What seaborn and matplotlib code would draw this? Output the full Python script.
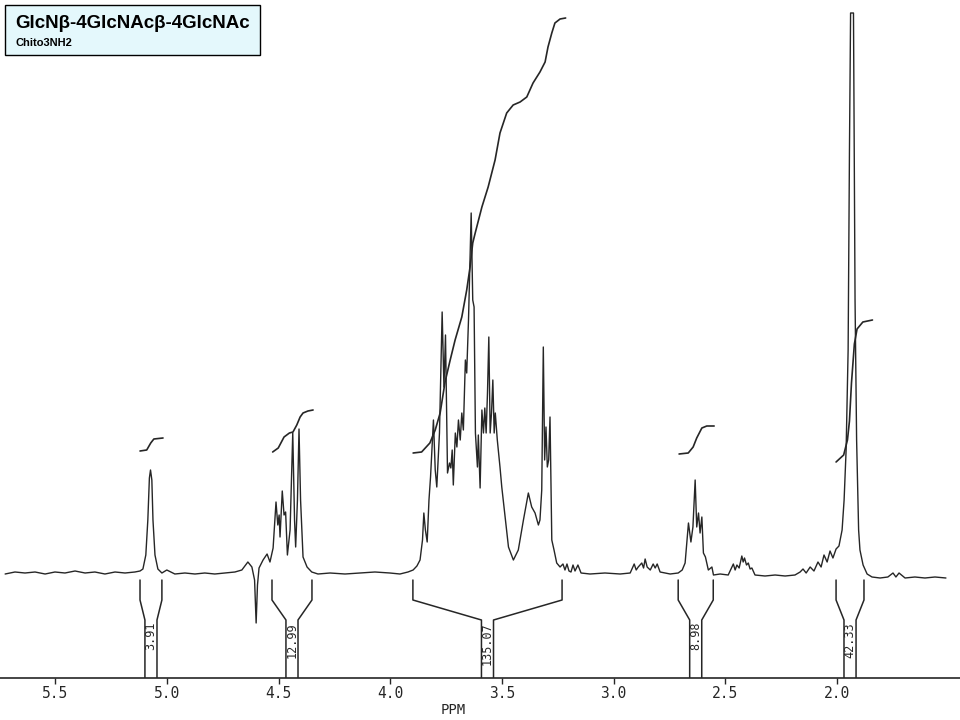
"""
1H NMR de GlcNb-4GlcNAcb-4GlcNAc (Chito3NH2) - trazo del espectro escaneado
"""
import matplotlib
matplotlib.use("Agg")
import matplotlib.pyplot as plt
import seaborn as sns
from matplotlib.patches import Rectangle

sns.set_theme(style="white")
plt.rcParams.update({"figure.dpi": 100, "savefig.dpi": 100})

TINTA = "#262626"
MONO = "DejaVu Sans Mono"

# ----------------------------------------------------------------------
# Datos leidos del espectro (ppm, intensidad relativa sobre la linea base)
# ----------------------------------------------------------------------
spec_ppm = [
    5.725, 5.681, 5.636, 5.591, 5.546, 5.502, 5.457, 5.412, 5.367, 5.323,
    5.278, 5.233, 5.188, 5.144, 5.121, 5.108, 5.095, 5.086, 5.079, 5.074,
    5.068, 5.063, 5.054, 5.041, 5.023, 5.001, 4.965, 4.920, 4.875, 4.831,
    4.786, 4.741, 4.696, 4.665, 4.638, 4.620, 4.608, 4.601, 4.595, 4.588,
    4.570, 4.552, 4.539, 4.525, 4.512, 4.504, 4.498, 4.494, 4.484, 4.476,
    4.469, 4.461, 4.449, 4.437, 4.429, 4.424, 4.416, 4.409, 4.402, 4.391,
    4.373, 4.352, 4.324, 4.270, 4.203, 4.136, 4.069, 4.002, 3.957, 3.921,
    3.898, 3.881, 3.867, 3.856, 3.850, 3.843, 3.835, 3.827, 3.820, 3.807,
    3.799, 3.792, 3.780, 3.768, 3.760, 3.753, 3.744, 3.735, 3.729, 3.723,
    3.718, 3.709, 3.702, 3.695, 3.687, 3.680, 3.673, 3.664, 3.658, 3.650,
    3.638, 3.631, 3.625, 3.619, 3.610, 3.606, 3.598, 3.590, 3.583, 3.577,
    3.571, 3.565, 3.559, 3.553, 3.547, 3.541, 3.535, 3.530, 3.521, 3.509,
    3.501, 3.486, 3.471, 3.449, 3.427, 3.404, 3.382, 3.367, 3.352, 3.337,
    3.330, 3.322, 3.315, 3.309, 3.303, 3.297, 3.291, 3.285, 3.277, 3.267,
    3.255, 3.240, 3.227, 3.218, 3.209, 3.200, 3.191, 3.182, 3.173, 3.160,
    3.146, 3.106, 3.039, 2.971, 2.926, 2.908, 2.899, 2.890, 2.874, 2.866,
    2.859, 2.850, 2.836, 2.823, 2.814, 2.805, 2.792, 2.747, 2.711, 2.693,
    2.680, 2.665, 2.654, 2.645, 2.635, 2.628, 2.620, 2.613, 2.605, 2.598,
    2.589, 2.576, 2.560, 2.553, 2.523, 2.487, 2.464, 2.456, 2.448, 2.438,
    2.426, 2.420, 2.414, 2.405, 2.397, 2.389, 2.381, 2.367, 2.322, 2.277,
    2.232, 2.188, 2.165, 2.152, 2.138, 2.120, 2.103, 2.085, 2.071, 2.058,
    2.044, 2.031, 2.018, 2.004, 1.991, 1.977, 1.968, 1.959, 1.950, 1.944,
    1.939, 1.926, 1.919, 1.912, 1.903, 1.897, 1.883, 1.865, 1.843, 1.807,
    1.772, 1.749, 1.736, 1.722, 1.695, 1.651, 1.606, 1.561, 1.512,
]
spec_int = [
    -1, 1, 0, 1, -1, 1, 0, 2, 0, 1,
    -1, 1, 0, 1, 2, 4, 18, 53, 95, 103,
    93, 53, 18, 4, 0, 3, -1, 0, -1, 0,
    -1, 0, 1, 3, 11, 6, -7, -50, -12, 5,
    13, 19, 11, 25, 71, 48, 58, 36, 82, 58,
    61, 18, 43, 140, 53, 26, 73, 144, 73, 16,
    6, 1, -1, 0, -1, 0, 1, 0, -1, 1,
    3, 7, 13, 33, 60, 43, 31, 73, 96, 153,
    103, 86, 140, 261, 186, 238, 100, 110, 105, 123,
    88, 140, 126, 153, 133, 160, 143, 213, 200, 253,
    360, 273, 266, 140, 106, 138, 85, 163, 140, 165,
    140, 180, 236, 140, 160, 193, 140, 160, 133, 106,
    86, 56, 26, 13, 23, 53, 80, 66, 60, 48,
    53, 83, 226, 113, 146, 106, 113, 156, 33, 23,
    10, 6, 9, 3, 9, 2, 1, 8, 2, 8,
    0, -1, 0, -1, 0, 9, 3, 6, 10, 5,
    14, 6, 3, 9, 5, 9, 1, -1, 0, 3,
    10, 50, 31, 46, 93, 46, 60, 40, 56, 20,
    16, 3, 6, -2, -1, -2, 9, 3, 8, 5,
    17, 11, 15, 8, 10, 4, 5, -2, -3, -2,
    -3, -2, 1, 4, 0, 6, 2, 11, 6, 18,
    11, 22, 15, 24, 27, 43, 73, 123, 223, 423,
    560, 560, 273, 133, 43, 23, 8, -1, -4, -5,
    -4, 0, -4, 0, -5, -4, -5, -4, -5,
]

# Curvas de integral
int1_ppm = [5.121, 5.091, 5.073, 5.059, 5.018]
int1_y = [122, 123, 130, 134, 135]
int2_ppm = [4.527, 4.502, 4.476, 4.452, 4.436, 4.419, 4.404, 4.391, 4.369, 4.346]
int2_y = [121, 125, 136, 140, 141, 148, 156, 160, 162, 163]
int3_ppm = [3.898, 3.860, 3.823, 3.799, 3.777, 3.755, 3.732, 3.710, 3.680, 3.658,
            3.643, 3.631, 3.620, 3.590, 3.562, 3.531, 3.509, 3.479, 3.450, 3.419,
            3.389, 3.361, 3.330, 3.307, 3.294, 3.277, 3.263, 3.240, 3.215]
int3_y = [120, 121, 130, 143, 160, 191, 213, 233, 256, 283,
          306, 330, 340, 366, 386, 413, 440, 460, 468, 471,
          476, 490, 501, 511, 526, 540, 550, 554, 555]
int4_ppm = [2.707, 2.666, 2.644, 2.628, 2.605, 2.583, 2.550]
int4_y = [119, 120, 126, 135, 145, 147, 147]
int5_ppm = [2.004, 1.970, 1.953, 1.944, 1.935, 1.922, 1.910, 1.884, 1.841]
int5_y = [111, 118, 133, 152, 190, 229, 244, 251, 253]

# Regiones integradas y sus valores
region_left = [5.121, 4.530, 3.899, 2.711, 2.004]
region_right = [5.023, 4.351, 3.231, 2.554, 1.879]
integral_labels = ["3.91", "12.99", "135.07", "8.98", "42.33"]

ticks = [5.5, 5.0, 4.5, 4.0, 3.5, 3.0, 2.5, 2.0]
tick_labels = ["5.5", "5.0", "4.5", "4.0", "3.5", "3.0", "2.5", "2.0"]

# ----------------------------------------------------------------------
fig = plt.figure(figsize=(9.6, 7.2))
fig.patch.set_facecolor("white")
ax = fig.add_axes([0, 42 / 720, 1, 678 / 720])
ax.set_facecolor("white")

sns.lineplot(x=spec_ppm, y=spec_int, sort=False, estimator=None,
             color=TINTA, lw=1.0, ax=ax)
for px, py in [(int1_ppm, int1_y), (int2_ppm, int2_y), (int3_ppm, int3_y),
               (int4_ppm, int4_y), (int5_ppm, int5_y)]:
    sns.lineplot(x=px, y=py, sort=False, estimator=None, color=TINTA, lw=1.2, ax=ax)

# Corchetes de integracion bajo el espectro
y_top, y_b1, y_b2, y_bot = -7, -27, -47, -105
gap = 0.027
for l, r, lab in zip(region_left, region_right, integral_labels):
    c = (l + r) / 2
    ax.plot([l, l, c + gap, c + gap], [y_top, y_b1, y_b2, y_bot], color=TINTA, lw=1.1)
    ax.plot([r, r, c - gap, c - gap], [y_top, y_b1, y_b2, y_bot], color=TINTA, lw=1.1)
    ax.text(c, y_b2 - 2, lab, rotation=90, ha="center", va="top",
            fontsize=8.5, family=MONO, color=TINTA)

ax.set_xlim(5.748, 1.449)
ax.set_ylim(-105, 573)
ax.set_yticks([])
ax.set_xticks(ticks)
ax.set_xticklabels(tick_labels, family=MONO, fontsize=10.5, color=TINTA)
ax.tick_params(axis="x", direction="out", length=4, width=1, pad=2,
               color=TINTA, bottom=True)
for s in ["top", "left", "right"]:
    ax.spines[s].set_visible(False)
ax.spines["bottom"].set_color(TINTA)
ax.spines["bottom"].set_linewidth(1.2)
ax.set_ylabel("")
ax.set_xlabel("PPM", family=MONO, fontsize=10, color=TINTA)
ax.xaxis.set_label_coords(453 / 960, -25 / 678)

# Recuadro del titulo
fig.add_artist(Rectangle((5 / 960, 1 - 55 / 720), 255 / 960, 50 / 720,
                         transform=fig.transFigure, facecolor="#E4F8FC",
                         edgecolor="black", lw=1.0))
fig.text(15 / 960, 1 - 28.5 / 720, "GlcNβ-4GlcNAcβ-4GlcNAc", family="Liberation Sans",
         fontsize=13.5, weight="bold", va="baseline", ha="left", color="black")
fig.text(15 / 960, 1 - 46.5 / 720, "Chito3NH2", family="Liberation Sans",
         fontsize=8, weight="bold", va="baseline", ha="left", color="black")

fig.savefig("out.png")
